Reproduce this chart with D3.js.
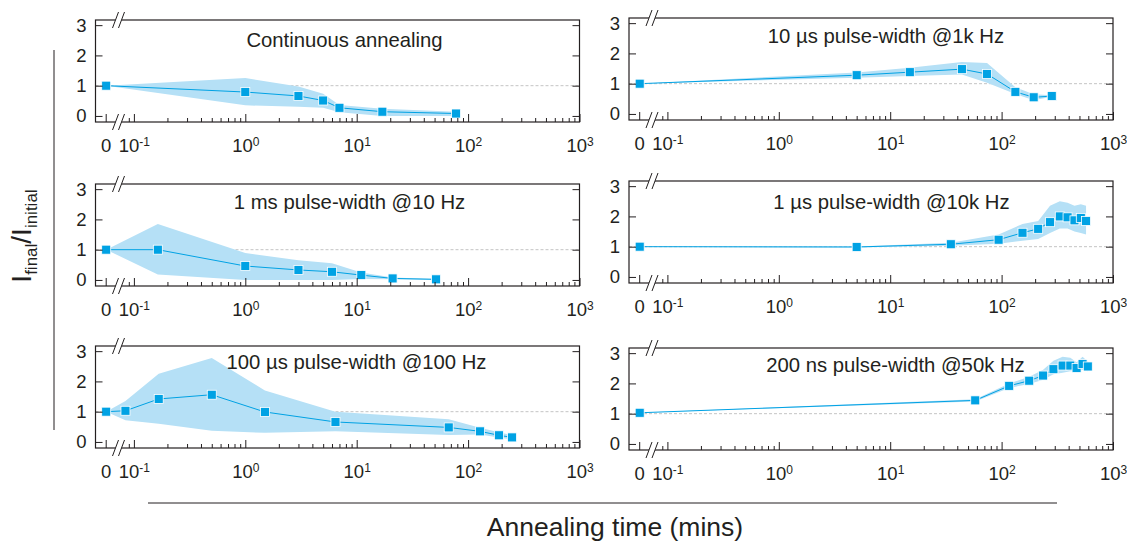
<!DOCTYPE html>
<html>
<head>
<meta charset="utf-8">
<script src="https://cdn.jsdelivr.net/npm/d3@7"></script>
<style>
body { margin: 0; background: #fff; }
text { font-family: "Liberation Sans", Arial, sans-serif; fill: #231f20; }
</style>
</head>
<body>
<svg id="chart" width="1127" height="541"></svg>
<script>
// values, time in mins (0 = before annealing)
var titles = ['Continuous annealing', '10 \u00b5s pulse-width @1k Hz', '1 ms pulse-width @10 Hz',
              '1 \u00b5s pulse-width @10k Hz', '100 \u00b5s pulse-width @100 Hz', '200 ns pulse-width @50k Hz'];

var contTime = [0, 1, 3, 5, 7, 17, 78];
var contMean = [1.0, 0.79, 0.66, 0.51, 0.27, 0.14, 0.08];
var contLow  = [1.0, 0.35, 0.30, 0.27, 0.12, 0.0, 0.0];
var contHigh = [1.0, 1.25, 0.97, 0.73, 0.36, 0.24, 0.14];

var us10Time = [0, 5, 15, 44, 74, 133, 194, 282];
var us10Mean = [1.0, 1.28, 1.38, 1.48, 1.32, 0.73, 0.55, 0.59];
var us10Low  = [1.0, 1.20, 1.25, 1.30, 1.03, 0.66, 0.45, 0.57];
var us10High = [1.0, 1.37, 1.53, 1.72, 1.68, 0.88, 0.65, 0.62];

var ms1Time = [0, 0.164, 1, 3, 6, 11, 21, 51.6];
var ms1Mean = [1.0, 1.0, 0.46, 0.33, 0.27, 0.16, 0.05, 0.02];
var ms1Low  = [1.0, 0.18, 0.0, 0.0, 0.0, 0.03, 0.02, 0.0];
var ms1High = [1.0, 1.85, 0.89, 0.65, 0.55, 0.25, 0.08, 0.03];

var us1Time = [0, 5, 35, 94, 154, 213, 272, 333, 391, 451, 514, 573];
var us1Mean = [1.0, 0.99, 1.08, 1.23, 1.46, 1.59, 1.81, 2.0, 1.97, 1.87, 1.95, 1.85];
var us1Low  = [1.0, 0.97, 1.03, 1.10, 1.20, 1.25, 1.45, 1.60, 1.60, 1.50, 1.45, 1.40];
var us1High = [1.0, 1.01, 1.13, 1.40, 1.75, 1.85, 2.35, 2.50, 2.45, 2.35, 2.40, 2.35];

var us100Time = [0, 0.084, 0.167, 0.5, 1.5, 6.45, 67, 128, 189, 248];
var us100Mean = [1.0, 1.03, 1.42, 1.56, 0.99, 0.66, 0.48, 0.35, 0.22, 0.15];
var us100Low  = [1.0, 0.72, 0.60, 0.37, 0.30, 0.35, 0.23, 0.25, 0.15, 0.08];
var us100High = [1.0, 1.35, 2.25, 2.77, 1.70, 1.00, 0.75, 0.47, 0.32, 0.22];

var ns200Time = [0, 58, 117, 177, 236, 292, 353, 414, 471, 533, 594];
var ns200Mean = [1.03, 1.44, 1.92, 2.09, 2.26, 2.47, 2.59, 2.59, 2.51, 2.64, 2.56];
var ns200Low  = [1.03, 1.40, 1.85, 1.98, 2.12, 2.30, 2.35, 2.40, 2.40, 2.45, 2.40];
var ns200High = [1.03, 1.48, 2.00, 2.22, 2.45, 2.75, 2.88, 2.85, 2.70, 2.88, 2.72];

var yTicks = [0, 1, 2, 3];
var xMajor = [0.1, 1, 10, 100, 1000];

function rows(t, m, lo, hi) {
    return t.map(function(d, i) { return {t: d, v: m[i], lo: lo[i], hi: hi[i]}; });
}

var W = 484, H = 102;
var panels = [
    {x: 95.5, y: 20,  tx: 249,   ty: 27, title: titles[0], data: rows(contTime, contMean, contLow, contHigh)},
    {x: 629,  y: 18,  tx: 257,   ty: 25, title: titles[1], data: rows(us10Time, us10Mean, us10Low, us10High)},
    {x: 95.5, y: 184, tx: 254,   ty: 25, title: titles[2], data: rows(ms1Time, ms1Mean, ms1Low, ms1High)},
    {x: 629,  y: 181, tx: 262.5, ty: 28, title: titles[3], data: rows(us1Time, us1Mean, us1Low, us1High)},
    {x: 95.5, y: 346, tx: 261,   ty: 23, title: titles[4], data: rows(us100Time, us100Mean, us100Low, us100High)},
    {x: 629,  y: 348, tx: 266.5, ty: 24, title: titles[5], data: rows(ns200Time, ns200Mean, ns200Low, ns200High)}
];

var svg = d3.select('#chart');
var ink = '#231f20';
var blue = '#00a2e4';

// minor log ticks 2..9 in each decade, plus 0.09 just after the break
var xMinor = [0.09];
for (var e = -1; e < 3; e++) {
    for (var k = 2; k < 10; k++) xMinor.push(k * Math.pow(10, e));
}

function breakMark(g, bx, by) {
    g.append('path')
        .attr('d', 'M' + (bx - 6) + ',' + (by + 8) + 'L' + bx + ',' + (by - 8) +
                   'L' + (bx + 6) + ',' + (by - 8) + 'L' + bx + ',' + (by + 8) + 'Z')
        .attr('fill', '#fff');
    [0, 6].forEach(function(o) {
        g.append('line')
            .attr('x1', bx - 6 + o).attr('y1', by + 8)
            .attr('x2', bx + o).attr('y2', by - 8)
            .attr('stroke', ink).attr('stroke-width', 1);
    });
}

function drawPanel(p) {
    var g = svg.append('g').attr('transform', 'translate(' + p.x + ',' + p.y + ')');

    var x = d3.scaleLog().domain([0.1, 1000]).range([38.4, W]);
    var zeroX = 10.7;
    var xpos = function(t) { return t === 0 ? zeroX : x(t); };
    var y = d3.scaleLinear().domain([-0.2, 3.17]).range([H, 0]);

    // reference level
    g.append('line')
        .attr('x1', 0).attr('x2', W)
        .attr('y1', y(1)).attr('y2', y(1))
        .attr('stroke', '#c4c4c4').attr('stroke-dasharray', '3,2');

    var area = d3.area()
        .x(function(d) { return xpos(d.t); })
        .y0(function(d) { return y(d.lo); })
        .y1(function(d) { return y(d.hi); });

    g.append('path').datum(p.data)
        .attr('d', area)
        .attr('fill', '#b5e0f6');

    var line = d3.line()
        .x(function(d) { return xpos(d.t); })
        .y(function(d) { return y(d.v); });

    g.append('path').datum(p.data)
        .attr('d', line)
        .attr('fill', 'none')
        .attr('stroke', blue)
        .attr('stroke-width', 1);

    g.selectAll('rect.mk')
        .data(p.data)
        .enter()
        .append('rect')
        .attr('class', 'mk')
        .attr('x', function(d) { return xpos(d.t) - 4.5; })
        .attr('y', function(d) { return y(d.v) - 4.5; })
        .attr('width', 9).attr('height', 9)
        .attr('fill', blue)
        .attr('stroke', '#fff').attr('stroke-width', 0.8);

    // frame
    g.append('rect')
        .attr('width', W).attr('height', H)
        .attr('fill', 'none').attr('stroke', ink).attr('stroke-width', 1.2);

    var yl = g.append('g')
        .call(d3.axisLeft(y).tickValues(yTicks).tickSize(-7).tickPadding(9).tickFormat(d3.format('d')));
    yl.select('.domain').remove();
    yl.selectAll('text').attr('font-size', 18.5).attr('fill', ink);

    var yr = g.append('g')
        .attr('transform', 'translate(' + W + ',0)')
        .call(d3.axisRight(y).tickValues(yTicks).tickSize(-7).tickFormat(''));
    yr.select('.domain').remove();

    var xm = g.append('g')
        .attr('transform', 'translate(0,' + H + ')')
        .call(d3.axisBottom(x).tickValues(xMinor).tickSize(-4).tickFormat(''));
    xm.select('.domain').remove();

    var xa = g.append('g')
        .attr('transform', 'translate(0,' + H + ')')
        .call(d3.axisBottom(x).tickValues(xMajor).tickSize(-8).tickPadding(16.5));
    xa.select('.domain').remove();
    xa.selectAll('.tick text').each(function(d) {
        var ex = Math.round(Math.log10(d));
        var t = d3.select(this).text(null).attr('font-size', 18.5).attr('fill', ink);
        t.append('tspan').text('10');
        t.append('tspan').attr('dy', '-0.45em').attr('font-size', 12).text(ex);
    });

    g.selectAll('.tick line').attr('stroke', ink);

    // the zero point on the broken axis
    g.append('line')
        .attr('x1', zeroX).attr('x2', zeroX)
        .attr('y1', H).attr('y2', H - 8)
        .attr('stroke', ink);
    g.append('text')
        .attr('x', zeroX).attr('y', H + 29.5)
        .attr('text-anchor', 'middle')
        .attr('font-size', 18.5)
        .text('0');

    breakMark(g, 23, 0);
    breakMark(g, 23, H);

    g.append('text')
        .attr('x', p.tx).attr('y', p.ty)
        .attr('text-anchor', 'middle')
        .attr('font-size', 20.3)
        .text(p.title);
}

panels.forEach(drawPanel);

// shared axis titles and guide lines
svg.append('line')
    .attr('x1', 54).attr('x2', 54).attr('y1', 50).attr('y2', 430)
    .attr('stroke', ink).attr('stroke-width', 1);
svg.append('line')
    .attr('x1', 148).attr('x2', 1057).attr('y1', 503).attr('y2', 503)
    .attr('stroke', ink).attr('stroke-width', 1);

var yt = svg.append('text')
    .attr('transform', 'translate(31,236) rotate(-90)')
    .attr('text-anchor', 'middle')
    .attr('font-size', 28);
yt.append('tspan').text('I');
yt.append('tspan').attr('font-size', 17).attr('dy', 6).text('final');
yt.append('tspan').attr('dy', -6).text('/I');
yt.append('tspan').attr('font-size', 17).attr('dy', 6).text('initial');

svg.append('text')
    .attr('x', 615).attr('y', 536)
    .attr('text-anchor', 'middle')
    .attr('font-size', 26.5)
    .text('Annealing time (mins)');
</script>
</body>
</html>
